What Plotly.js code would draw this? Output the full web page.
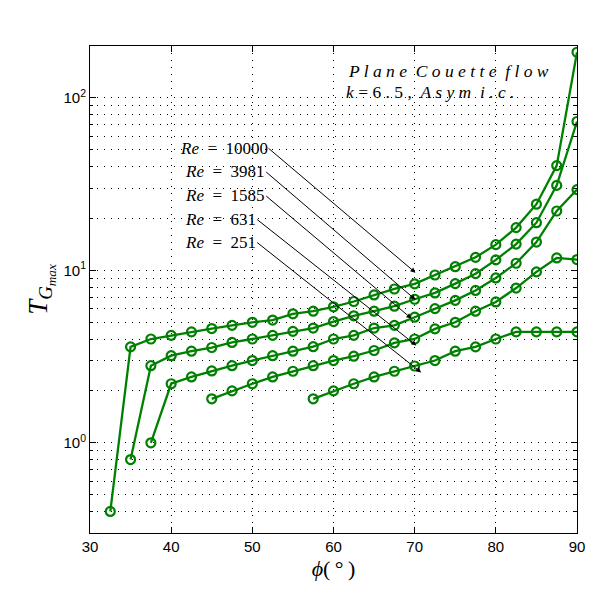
<!DOCTYPE html>
<html>
<head>
<meta charset="utf-8">
<script src="https://cdn.plot.ly/plotly-3.0.1.min.js"></script>
<style>
  body { margin: 0; background: white; }
  #plot { width: 599px; height: 599px; }
</style>
</head>
<body>
<div id="plot"></div>
<script>
// phi (degrees) and T_Gmax for each Reynolds number
var phi10000 = [32.5, 35, 37.5, 40, 42.5, 45, 47.5, 50, 52.5, 55, 57.5, 60, 62.5, 65, 67.5, 70, 72.5, 75, 77.5, 80, 82.5, 85, 87.5, 90];
var tg10000  = [0.40, 3.6, 4.0, 4.2, 4.4, 4.6, 4.8, 5.0, 5.15, 5.6, 5.8, 6.15, 6.6, 7.2, 7.8, 8.35, 9.4, 10.5, 11.9, 14.1, 17.7, 24.2, 40.5, 184];

var phi3981 = [35, 37.5, 40, 42.5, 45, 47.5, 50, 52.5, 55, 57.5, 60, 62.5, 65, 67.5, 70, 72.5, 75, 77.5, 80, 82.5, 85, 87.5, 90];
var tg3981  = [0.80, 2.8, 3.2, 3.4, 3.57, 3.82, 4.0, 4.2, 4.43, 4.63, 5.05, 5.45, 5.8, 6.2, 6.8, 7.4, 8.38, 9.57, 11.5, 14.2, 18.9, 31.1, 73];

var phi1585 = [37.5, 40, 42.5, 45, 47.5, 50, 52.5, 55, 57.5, 60, 62.5, 65, 67.5, 70, 72.5, 75, 77.5, 80, 82.5, 85, 87.5, 90];
var tg1585  = [1.0, 2.2, 2.41, 2.61, 2.8, 3.0, 3.2, 3.4, 3.61, 4.0, 4.2, 4.63, 4.8, 5.35, 6.0, 6.7, 7.65, 9.04, 11.0, 14.6, 22.1, 29.4];

var phi631 = [45, 47.5, 50, 52.5, 55, 57.5, 60, 62.5, 65, 67.5, 70, 72.5, 75, 77.5, 80, 82.5, 85, 87.5, 90];
var tg631  = [1.8, 2.0, 2.2, 2.41, 2.6, 2.8, 3.0, 3.18, 3.43, 3.8, 4.0, 4.58, 5.0, 5.8, 6.56, 7.9, 9.8, 11.8, 11.55];

var phi251 = [57.5, 60, 62.5, 65, 67.5, 70, 72.5, 75, 77.5, 80, 82.5, 85, 87.5, 90];
var tg251  = [1.8, 2.0, 2.2, 2.41, 2.6, 2.79, 3.0, 3.4, 3.6, 4.0, 4.4, 4.4, 4.4, 4.4];

// labels with arrows: label right end (tail) -> arrow head
var reLabels = ['10000', '3981', '1585', '631', '251'];
var tailPhi  = [52.0, 51.7, 51.7, 50.6, 50.6];
var tailT    = [51.0, 37.2, 27.0, 19.7, 14.5];
var headPhi  = [70.1, 70.1, 69.6, 70.2, 70.8];
var headT    = [9.7, 6.76, 5.26, 3.67, 2.56];

// y ticks
var yTickVals = [1, 10, 100];
var yTickText = ['10<sup>0</sup>', '10<sup>1</sup>', '10<sup>2</sup>'];
var yMinorVals = [0.3, 0.4, 0.5, 0.6, 0.7, 0.8, 0.9, 2, 3, 4, 5, 6, 7, 8, 9, 20, 30, 40, 50, 60, 70, 80, 90, 200];

var green = '#008000';
var gridDash = '1px,6px';

function series(x, y) {
  return {
    x: x, y: y,
    type: 'scatter',
    mode: 'lines+markers',
    line: {color: green, width: 2.3},
    marker: {symbol: 'circle-open', size: 9, color: green, line: {width: 2.2, color: green}},
    showlegend: false,
    hoverinfo: 'skip'
  };
}

var traces = [
  series(phi10000, tg10000),
  series(phi3981, tg3981),
  series(phi1585, tg1585),
  series(phi631, tg631),
  series(phi251, tg251)
];

var serif = 'Liberation Serif, DejaVu Serif, serif';
var annotations = [];
for (var i = 0; i < reLabels.length; i++) {
  annotations.push({
    x: headPhi[i], y: Math.log10(headT[i]),
    ax: tailPhi[i], ay: Math.log10(tailT[i]),
    xref: 'x', yref: 'y', axref: 'x', ayref: 'y',
    xanchor: 'right', yanchor: 'middle',
    text: '<i>Re</i>\u2002=\u2002' + reLabels[i],
    showarrow: true,
    arrowhead: 2, arrowsize: 1, arrowwidth: 1, arrowcolor: '#000',
    standoff: 0, startstandoff: 0,
    borderpad: 0,
    font: {family: serif, size: 17, color: '#000'}
  });
}
annotations.push({
  xref: 'paper', yref: 'paper',
  x: (346 - 90) / 487, y: (533 - 71) / 487,
  xanchor: 'left', yanchor: 'middle',
  text: '<i>P l a n e  C o u e t t e  f l o w</i>',
  showarrow: false,
  font: {family: serif, size: 17.5, color: '#000'}
});
annotations.push({
  xref: 'paper', yref: 'paper',
  x: (344 - 90) / 487, y: (533 - 92) / 487,
  xanchor: 'left', yanchor: 'middle',
  text: '<i>k</i> = 6 . 5 ,  <i>A s y m  i . c .</i>',
  showarrow: false,
  font: {family: serif, size: 17.5, color: '#000'}
});

var layout = {
  width: 599, height: 599,
  margin: {l: 90, r: 22, t: 46, b: 66},
  plot_bgcolor: 'white',
  paper_bgcolor: 'white',
  font: {family: 'Liberation Sans, Arial, sans-serif', size: 15, color: '#000'},
  xaxis: {
    range: [30, 90],
    tick0: 30, dtick: 10,
    ticks: 'inside', ticklen: 6, tickcolor: '#000',
    showline: true, linecolor: '#000', linewidth: 1, mirror: 'allticks',
    showgrid: true, gridcolor: '#000', gridwidth: 1, griddash: gridDash,
    zeroline: false,
    tickfont: {size: 15},
    title: {text: '<i>ϕ</i>(\u2009°\u2009)', font: {family: serif, size: 22}, standoff: 6}
  },
  yaxis: {
    type: 'log',
    range: [Math.log10(0.3), Math.log10(200)],
    tickmode: 'array', tickvals: yTickVals, ticktext: yTickText,
    ticks: 'inside', ticklen: 6, tickcolor: '#000',
    showline: true, linecolor: '#000', linewidth: 1, mirror: 'allticks',
    showgrid: true, gridcolor: '#000', gridwidth: 1, griddash: gridDash,
    zeroline: false,
    tickfont: {size: 15},
    minor: {
      tickmode: 'array', tickvals: yMinorVals,
      ticks: 'inside', ticklen: 3, tickcolor: '#000',
      showgrid: true, gridcolor: '#000', gridwidth: 1, griddash: gridDash
    },
    title: {text: '<i>T</i><sub><i>G<sub>max</sub></i></sub>', font: {family: serif, size: 27}, standoff: 8}
  },
  annotations: annotations
};

Plotly.newPlot('plot', traces, layout, {displayModeBar: false, staticPlot: true});
</script>
</body>
</html>
